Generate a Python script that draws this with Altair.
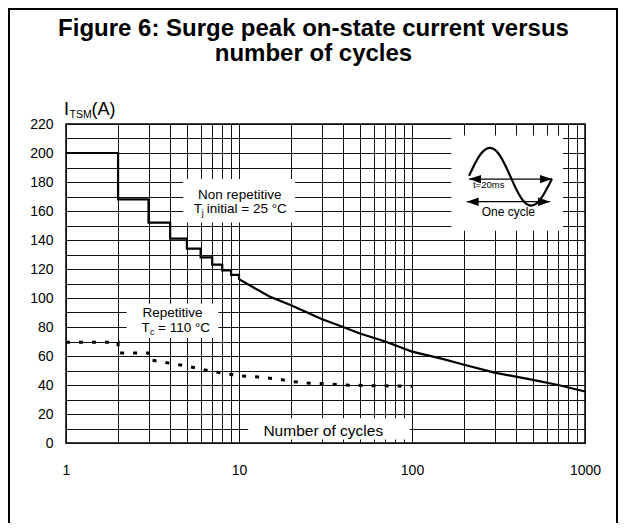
import altair as alt
import pandas as pd

FONT = "Liberation Sans"

TITLE_LINES = ["Figure 6: Surge peak on-state current versus", "number of cycles"]

# Non repetitive (Tj initial = 25 °C) - solid stepped curve
NR_CYCLES = [1, 2, 2, 3, 3, 4, 4, 5, 5, 6, 6, 7, 7, 8, 8, 9, 9, 10, 10, 15, 20, 30, 40, 50, 70,
             100, 150, 200, 300, 500, 700, 1000]
NR_AMPS = [200, 200, 168, 168, 152, 152, 141, 141, 134, 134, 128, 128, 123, 123, 119, 119, 116, 116,
           113, 101, 95, 85.5, 80, 75.5, 70, 63, 58, 54, 48.5, 43.5, 40, 35.5]

# Repetitive (Tc = 110 °C) - dashed curve
R_CYCLES = [1, 2, 2, 3, 3, 4, 5, 6, 7, 8, 9, 10, 13, 17, 20, 25, 30, 40, 60, 100]
R_AMPS = [69.5, 69.5, 62, 62, 57.5, 55, 53, 51, 49.3, 48.3, 47.3, 46.3, 45.5, 44, 42.5, 41.3, 41,
          40, 39.5, 39.2]

X_TICKS = [1, 2, 3, 4, 5, 6, 7, 8, 9, 10, 20, 30, 40, 50, 60, 70, 80, 90,
           100, 200, 300, 400, 500, 600, 700, 800, 900, 1000]
Y_TICKS = list(range(0, 230, 10))

# white label boxes (cycles / amps)
BOX_X1 = [4.76, 2.24, 11.3, 169]
BOX_X2 = [21.1, 7.6, 97, 746]
BOX_Y1 = [152, 72.5, 2.5, 146.4]
BOX_Y2 = [182, 96, 17, 212]

# inset icon: one sine cycle with arrows
WAVE_CYCLES = [213.6, 245.3, 281.7, 323.1, 371.1, 426.1, 489.3, 561.3, 644.6]
WAVE_AMPS = [184.3, 198.0, 203.5, 198.0, 183.6, 169.2, 163.7, 169.2, 182.2]
ARROW_X1 = [213.6, 207]
ARROW_X2 = [644.6, 628]
ARROW_Y = [182.0, 166.4]

xscale = alt.Scale(type="log", domain=[1, 1000])
yscale = alt.Scale(domain=[0, 220], nice=False, zero=False)

x_axis = alt.Axis(values=X_TICKS, title=None, grid=True, ticks=False, tickSize=0, domain=False,
                  labelExpr="(datum.value == 1 || datum.value == 10 || datum.value == 100 || datum.value == 1000) ? format(datum.value, 'd') : ''",
                  labelFlush=False, labelOverlap=False, labelPadding=20, labelFontSize=14,
                  labelFont=FONT, labelColor="black", gridColor="#111111", gridWidth=1)
y_axis = alt.Axis(values=Y_TICKS, title=None, grid=True, ticks=False, tickSize=0, domain=False,
                  labelExpr="datum.value % 20 == 0 ? format(datum.value, 'd') : ''",
                  labelOverlap=False, labelPadding=13, labelFontSize=14, labelFont=FONT,
                  labelColor="black", gridColor="#111111", gridWidth=1)


def X(field):
    return alt.X(field, type="quantitative", scale=xscale, axis=x_axis)


def Y(field):
    return alt.Y(field, type="quantitative", scale=yscale, axis=y_axis)


nr_df = pd.DataFrame({"cycles": NR_CYCLES, "amps": NR_AMPS, "i": range(len(NR_CYCLES))})
r_df = pd.DataFrame({"cycles": R_CYCLES, "amps": R_AMPS, "i": range(len(R_CYCLES))})
box_df = pd.DataFrame({"cycles": BOX_X1, "cycles2": BOX_X2, "amps": BOX_Y1, "amps2": BOX_Y2})
wave_df = pd.DataFrame({"cycles": WAVE_CYCLES, "amps": WAVE_AMPS, "i": range(len(WAVE_CYCLES))})
arrow_df = pd.DataFrame({"cycles": ARROW_X1, "cycles2": ARROW_X2, "amps": ARROW_Y})

frame = alt.Chart(pd.DataFrame({"a": [0]})).mark_rect(
    fillOpacity=0, stroke="black", strokeWidth=2
).encode(x=alt.value(-57), x2=alt.value(551), y=alt.value(-115), y2=alt.value(600))

boxes = alt.Chart(box_df).mark_rect(fill="white", stroke=None).encode(
    x=X("cycles"), x2="cycles2", y=Y("amps"), y2="amps2")

nr_line = alt.Chart(nr_df).mark_line(color="black", strokeWidth=2.2).encode(
    x=X("cycles"), y=Y("amps"), order="i:Q")

r_line = alt.Chart(r_df).mark_line(color="black", strokeWidth=3, strokeDash=[4, 9]).encode(
    x=X("cycles"), y=Y("amps"), order="i:Q")

wave = alt.Chart(wave_df).mark_line(color="black", strokeWidth=2.2, interpolate="natural").encode(
    x=X("cycles"), y=Y("amps"), order="i:Q")

arrows = alt.Chart(arrow_df).mark_rule(color="black", strokeWidth=1.2).encode(
    x=X("cycles"), x2="cycles2", y=Y("amps"))

LEFT_HEAD = "M0,0L2,-0.7L2,0.7Z"
RIGHT_HEAD = "M0,0L-2,-0.7L-2,0.7Z"
heads_l = alt.Chart(pd.DataFrame({"cycles": ARROW_X1, "amps": ARROW_Y})).mark_point(
    shape=LEFT_HEAD, size=144, filled=True, color="black", opacity=1, strokeWidth=0
).encode(x=X("cycles"), y=Y("amps"))
heads_r = alt.Chart(pd.DataFrame({"cycles": ARROW_X2, "amps": ARROW_Y})).mark_point(
    shape=RIGHT_HEAD, size=144, filled=True, color="black", opacity=1, strokeWidth=0
).encode(x=X("cycles"), y=Y("amps"))


def txt(text, cx, cy, size=13.5, align="center", dx=0, dy=0):
    return alt.Chart(pd.DataFrame({"cycles": [cx], "amps": [cy], "t": [text]})).mark_text(
        font=FONT, fontSize=size, align=align, baseline="alphabetic", dx=dx, dy=dy, color="black"
    ).encode(x=X("cycles"), y=Y("amps"), text="t:N")


texts = [
    txt("Non repetitive", 10.1, 168.2),
    txt("T", 10.1, 158.6, align="left", dx=-46),
    txt("j", 10.1, 158.6, size=9, align="left", dx=-38, dy=3),
    txt("initial = 25 °C", 10.1, 158.6, align="left", dx=-33),
    txt("Repetitive", 4.13, 86.8),
    txt("T", 4.13, 76.5, align="left", dx=-31),
    txt("c", 4.13, 76.5, size=9, align="left", dx=-22.5, dy=3),
    txt("= 110 °C", 4.13, 76.5, align="left", dx=-14.5),
    txt("Number of cycles", 30.7, 5.0, size=15.5),
    txt("I", 1, 226, size=18, align="left", dx=-2),
    txt("TSM", 1, 226, size=10.5, align="left", dx=3.5, dy=2.5),
    txt("(A)", 1, 226, size=18, align="left", dx=25.5),
    txt("t=20ms", 277.5, 176, size=9.5),
    txt("One cycle", 360.3, 156.8, size=12),
]

chart = alt.layer(
    frame, boxes, nr_line, r_line, wave, arrows, heads_l, heads_r, *texts
).properties(
    width=519, height=319,
    title=alt.TitleParams(text=TITLE_LINES, fontSize=24, fontWeight="bold", font=FONT,
                          color="black", anchor="middle", offset=-58, lineHeight=25, dx=-12),
    autosize=alt.AutoSizeParams(type="none"),
    padding={"left": 58, "top": 116, "right": 33, "bottom": 80},
    background="white",
).configure_view(stroke="black", strokeWidth=1.5)

chart.save("out.html", embed_options={"renderer": "svg", "actions": False})
